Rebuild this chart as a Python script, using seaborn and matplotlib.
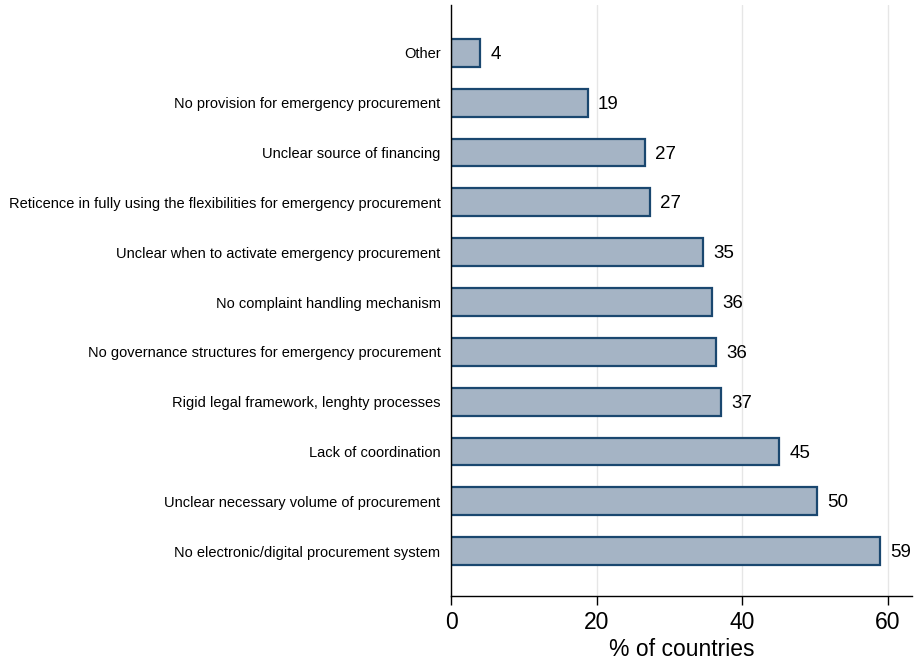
import matplotlib
matplotlib.use("Agg")
import matplotlib.pyplot as plt
import seaborn as sns
import pandas as pd

categories = [
    "Other",
    "No provision for emergency procurement",
    "Unclear source of financing",
    "Reticence in fully using the flexibilities for emergency procurement",
    "Unclear when to activate emergency procurement",
    "No complaint handling mechanism",
    "No governance structures for emergency procurement",
    "Rigid legal framework, lenghty processes",
    "Lack of coordination",
    "Unclear necessary volume of procurement",
    "No electronic/digital procurement system",
]
values = [3.98, 18.8, 26.6, 27.3, 34.6, 35.9, 36.4, 37.1, 45.05, 50.3, 58.9]
x_ticks = [0, 20, 40, 60]

df = pd.DataFrame({"category": categories, "value": values})

sns.set_style("white")
plt.rcParams["font.family"] = ["Liberation Sans", "DejaVu Sans"]
plt.rcParams["text.color"] = "black"
plt.rcParams["axes.labelcolor"] = "black"
plt.rcParams["xtick.color"] = "black"
plt.rcParams["ytick.color"] = "black"

fig = plt.figure(figsize=(9.15, 6.61), dpi=100)
ax = fig.add_axes([0.4929, 0.0983, 0.5038, 0.8941])

sns.barplot(data=df, x="value", y="category", order=categories, orient="h",
            color="#a5b4c5", edgecolor="#1a476f", linewidth=1.6, width=0.56,
            saturation=1, ax=ax)
for p in ax.patches:
    p.set_facecolor("#a5b4c5")

for i, v in enumerate(values):
    ax.text(v + 1.4, i + 0.03, f"{v:.0f}", va="center", ha="left", fontsize=13.5, color="black")

ax.set_xlim(0, 63.3)
ax.set_ylim(10.90, -0.96)
ax.set_xticks(x_ticks)
ax.set_xticklabels([str(t) for t in x_ticks], fontsize=16.5)
ax.set_xlabel("% of countries", fontsize=16.5, labelpad=3.5)
ax.set_ylabel("")
ax.tick_params(axis="y", labelsize=10.5, length=0, pad=7.5, left=False)
ax.tick_params(axis="x", length=6.5, width=1, direction="out", bottom=True, pad=4)
ax.xaxis.grid(True, color="#e6e6e6", linewidth=1)
ax.set_axisbelow(True)
for s in ["top", "right"]:
    ax.spines[s].set_visible(False)
for s in ["left", "bottom"]:
    ax.spines[s].set_color("black")
    ax.spines[s].set_linewidth(1)

fig.savefig("out.png", dpi=100)
